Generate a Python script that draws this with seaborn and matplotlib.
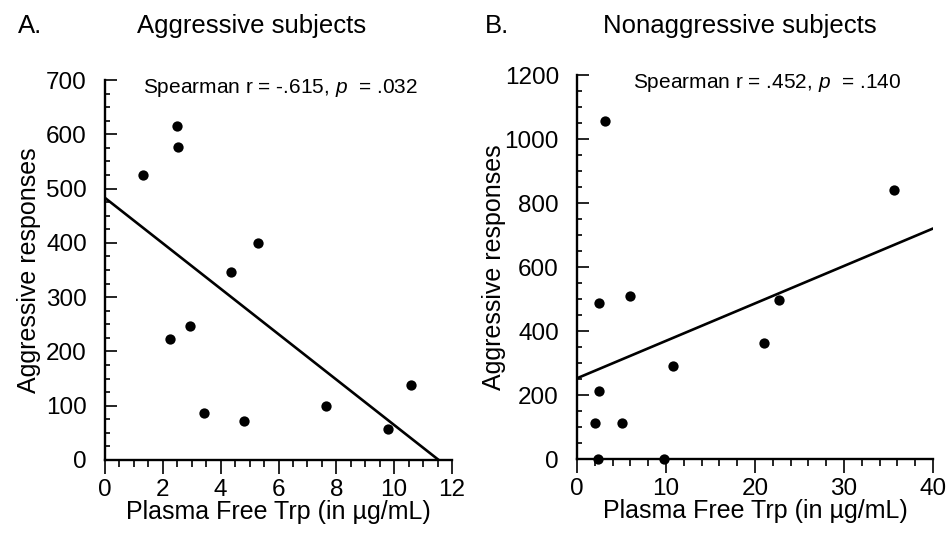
import numpy as np
import pandas as pd
import matplotlib
matplotlib.use('Agg')
import matplotlib.pyplot as plt
from matplotlib.ticker import MultipleLocator
import seaborn as sns

##-> Data
# panel A: aggressive subjects
trp_aggr = [1.33, 2.50, 2.52, 5.30, 4.37, 2.95, 2.24, 3.43, 4.82, 7.65, 9.80, 10.57]
resp_aggr = [525, 616, 577, 400, 346, 247, 222, 87, 72, 100, 58, 139]
# panel B: nonaggressive subjects
trp_nonaggr = [3.15, 35.66, 2.52, 5.92, 22.70, 21.06, 10.83, 2.52, 1.99, 5.10, 2.36, 9.78]
resp_nonaggr = [1055, 840, 486, 509, 496, 361, 291, 211, 112, 112, 0, 0]

panel_letters = ['A.', 'B.']
panel_titles = ['Aggressive subjects', 'Nonaggressive subjects']
stats_text = ['Spearman r = -.615, $p$  = .032', 'Spearman r = .452, $p$  = .140']
x_label = 'Plasma Free Trp (in µg/mL)'
y_label = 'Aggressive responses'
# Data <-##

sns.set_style('ticks')
plt.rcParams['font.family'] = ['Liberation Sans', 'DejaVu Sans']
plt.rcParams['mathtext.fontset'] = 'custom'
plt.rcParams['mathtext.rm'] = 'Liberation Sans'
plt.rcParams['mathtext.it'] = 'Liberation Sans:italic'
# seaborn greys the text, the scan is pure black
for key in ['text.color', 'axes.labelcolor', 'xtick.color', 'ytick.color', 'axes.edgecolor']:
    plt.rcParams[key] = 'black'

fig = plt.figure(figsize=(9.5, 5.4), dpi=100)
ax_a = fig.add_axes([105 / 950, 80 / 540, 347 / 950, 380 / 540])
ax_b = fig.add_axes([577 / 950, 81 / 540, 356 / 950, 384 / 540])

# per panel: data, limits, (major, minor) steps, title x, letter x, stats x, ylabel x (axes fraction)
panels = [
    (ax_a, trp_aggr, resp_aggr, (0, 12), (0, 700), (2, 0.5), (100, 25), 137, 18, 0.109, -0.185),
    (ax_b, trp_nonaggr, resp_nonaggr, (0, 40), (0, 1200), (10, 2), (200, 50), 603, 485, 0.157, -0.2),
]

for i, (ax, xs, ys, xlim, ylim, xstep, ystep, title_x, letter_x, stat_x, ylab_x) in enumerate(panels):
    df = pd.DataFrame({'trp': xs, 'resp': ys})
    ax.set_xlim(*xlim)
    ax.set_ylim(*ylim)
    # OLS line over the full x range, clipped by the axes at y = 0
    sns.regplot(data=df, x='trp', y='resp', ax=ax, ci=None, truncate=False, color='black',
                scatter_kws=dict(s=55, linewidths=0, clip_on=False, zorder=4, alpha=1),
                line_kws=dict(lw=1.9))
    ax.set_xlim(*xlim)
    ax.set_ylim(*ylim)

    ax.xaxis.set_major_locator(MultipleLocator(xstep[0]))
    ax.xaxis.set_minor_locator(MultipleLocator(xstep[1]))
    ax.yaxis.set_major_locator(MultipleLocator(ystep[0]))
    ax.yaxis.set_minor_locator(MultipleLocator(ystep[1]))

    sns.despine(ax=ax)
    for side in ['left', 'bottom']:
        ax.spines[side].set_linewidth(1.7)

    ax.tick_params(axis='y', which='major', direction='in', length=8.6, width=1.2, labelsize=17.5, pad=13)
    ax.tick_params(axis='y', which='minor', direction='in', length=3.8, width=1.2)
    ax.tick_params(axis='x', which='major', direction='out', length=10, width=1.2, labelsize=17.5, pad=3.5)
    ax.tick_params(axis='x', which='minor', direction='out', length=5, width=1.2)

    ax.set_xlabel(x_label, fontsize=18)
    ax.set_ylabel(y_label, fontsize=18)
    ax.xaxis.set_label_coords(0.5, -0.105)
    ax.yaxis.set_label_coords(ylab_x, 0.5)

    ax.text(stat_x, 0.979, stats_text[i], transform=ax.transAxes, fontsize=15, va='center', ha='left')

    fig.text(letter_x / 950, 1 - 33 / 540, panel_letters[i], fontsize=18.5, va='baseline')
    fig.text(title_x / 950, 1 - 33 / 540, panel_titles[i], fontsize=18.5, va='baseline')

plt.savefig('out.png', dpi=100)
